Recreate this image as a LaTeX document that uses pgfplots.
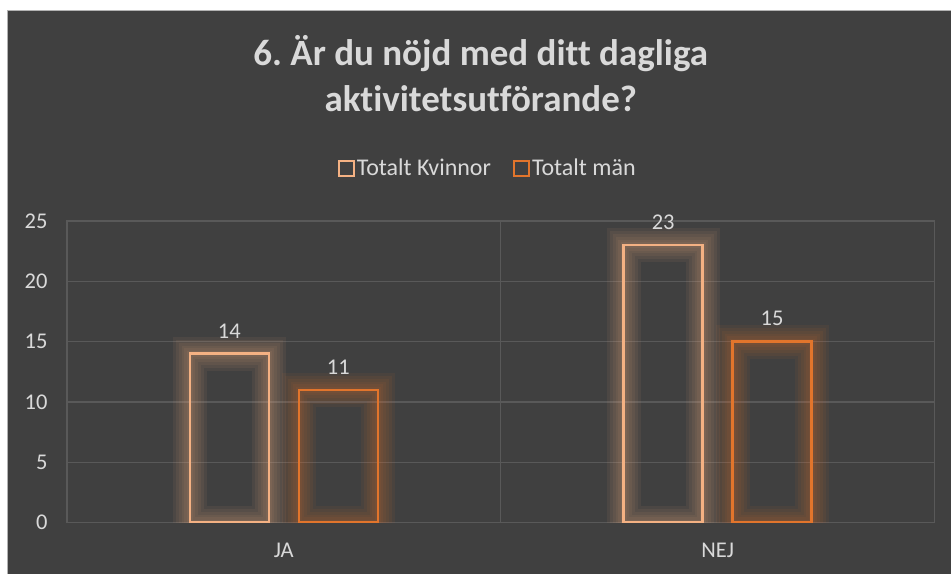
\documentclass[border=0pt]{standalone}
\usepackage{fontspec}
\setmainfont{Carlito}[Ligatures=NoCommon]
\usepackage{pgfplots}
\pgfplotsset{compat=1.18}
\definecolor{bg}{RGB}{64,64,64}
\definecolor{gridc}{RGB}{89,89,89}
\definecolor{txt}{RGB}{217,217,217}
\definecolor{kv}{RGB}{244,177,131}
\definecolor{man}{RGB}{226,117,44}
\pgfplotsset{
  glowkv/.style={bar width=79pt, bar shift=-54.5pt, draw=kv, fill=none, forget plot, draw opacity=0.065},
  glowman/.style={bar width=79pt, bar shift=54.5pt, draw=man, fill=none, forget plot, draw opacity=0.065},
}
\begin{document}
\frenchspacing
\begin{tikzpicture}
\fill[white] (0pt,0pt) rectangle (951pt,574pt);
\fill[bg] (7pt,0pt) rectangle (951pt,564pt);
\draw[gray!60, line width=1pt] (7.5pt,0pt) -- (7.5pt,563.5pt) -- (951pt,563.5pt);
\node[txt, font=\fontsize{37}{46}\selectfont\bfseries, align=center] at (481pt,500.5pt) {6. Är du nöjd med ditt dagliga\\aktivitetsutförande?};
\begin{axis}[at={(67pt,51pt)}, anchor=south west, scale only axis, width=868pt, height=302pt,
 ybar,
 xmin=-0.5, xmax=1.5, ymin=0, ymax=25,
 xtick={0,1}, xticklabels={JA,NEJ}, ytick={0,5,...,25},
 extra x ticks={0.5}, extra x tick labels={},
 extra x tick style={xmajorgrids=true},
 ymajorgrids, grid style={gridc, line width=1.3pt},
 axis line style={gridc, line width=1.3pt},
 major tick length=0,
 tick label style={txt, font=\fontsize{22.5}{26}\selectfont},
 /pgf/number format/assume math mode=true,
 yticklabel style={xshift=-16pt},
 xticklabel style={yshift=-17pt},
 legend style={draw=none, fill=none, text=txt, font=\fontsize{24}{28}\selectfont,
   legend columns=2, at={(0.485,1.175)}, anchor=center,
   /tikz/every even column/.append style={column sep=20pt}},
 nodes near coords style={txt, font=\fontsize{22.5}{26}\selectfont, yshift=11pt},
]
% glow layers
\addplot[glowkv, line width=34pt] coordinates {(0,14) (1,23)};
\addplot[glowkv, line width=28pt] coordinates {(0,14) (1,23)};
\addplot[glowkv, line width=22pt] coordinates {(0,14) (1,23)};
\addplot[glowkv, line width=16pt] coordinates {(0,14) (1,23)};
\addplot[glowkv, line width=11pt] coordinates {(0,14) (1,23)};
\addplot[glowkv, line width=6pt] coordinates {(0,14) (1,23)};
\addplot[glowman, line width=34pt] coordinates {(0,11) (1,15)};
\addplot[glowman, line width=28pt] coordinates {(0,11) (1,15)};
\addplot[glowman, line width=22pt] coordinates {(0,11) (1,15)};
\addplot[glowman, line width=16pt] coordinates {(0,11) (1,15)};
\addplot[glowman, line width=11pt] coordinates {(0,11) (1,15)};
\addplot[glowman, line width=6pt] coordinates {(0,11) (1,15)};
% main bars
\addplot[bar width=79pt, bar shift=-54.5pt, draw=kv, line width=2.5pt, fill=none, nodes near coords,
  legend image code/.code={\draw[line width=2pt] (0pt,-7.5pt) rectangle (15pt,7.5pt);}] coordinates {(0,14) (1,23)};
\addplot[bar width=79pt, bar shift=54.5pt, draw=man, line width=2.5pt, fill=none, nodes near coords,
  legend image code/.code={\draw[line width=2pt] (0pt,-7.5pt) rectangle (15pt,7.5pt);}] coordinates {(0,11) (1,15)};
\legend{Totalt Kvinnor, Totalt män}
\end{axis}
\end{tikzpicture}
\end{document}
